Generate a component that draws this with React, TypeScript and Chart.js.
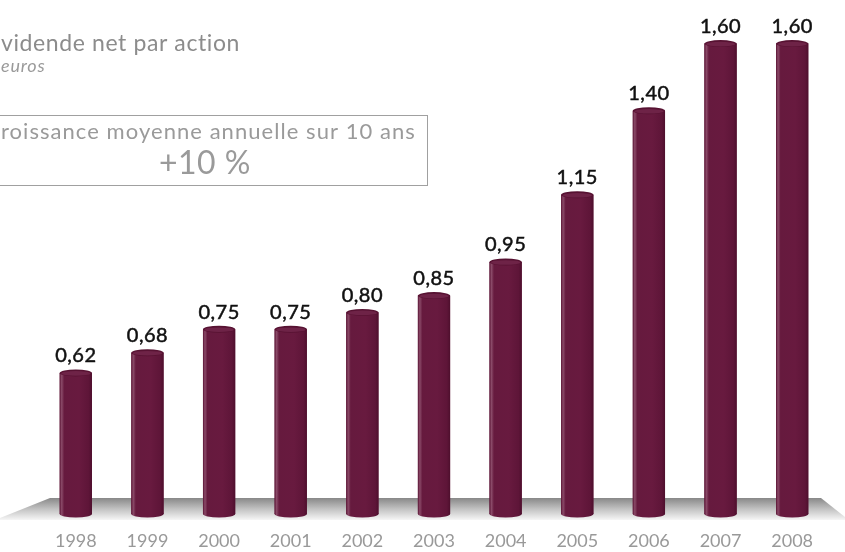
import React, { useEffect, useRef } from "react";
import { Chart, registerables } from "chart.js";

Chart.register(...registerables);

const years = ["1998", "1999", "2000", "2001", "2002", "2003", "2004", "2005", "2006", "2007", "2008"];
const dividends = [0.62, 0.68, 0.75, 0.75, 0.8, 0.85, 0.95, 1.15, 1.4, 1.6, 1.6];
const valueLabels = dividends.map((v) => v.toFixed(2).replace(".", ","));
const titleText = "Dividende net par action";
const subtitleText = "en euros";
const boxLine1 = "Croissance moyenne annuelle sur 10 ans";
const boxLine2 = "+10 %";

const FONT = "Lato, 'Open Sans', sans-serif";

const decorPlugin = {
  id: "decor",
  beforeDatasetsDraw(chart: any) {
    const ctx = chart.ctx;
    const area = chart.chartArea;
    ctx.save();
    const top = area.bottom - 16;
    const bot = area.bottom + 6;
    const g = ctx.createLinearGradient(0, top, 0, bot);
    g.addColorStop(0, "#888888");
    g.addColorStop(0.5, "#c2c2c2");
    g.addColorStop(1, "#f6f6f6");
    ctx.fillStyle = g;
    ctx.beginPath();
    ctx.moveTo(50, top);
    ctx.lineTo(chart.width - 24, top);
    ctx.lineTo(chart.width, bot - 3);
    ctx.lineTo(chart.width, bot);
    ctx.lineTo(0, bot);
    ctx.lineTo(0, top + 20);
    ctx.closePath();
    ctx.fill();
    ctx.restore();
  },
  afterDatasetsDraw(chart: any) {
    const ctx = chart.ctx;
    const area = chart.chartArea;
    const meta = chart.getDatasetMeta(0);
    ctx.save();
    meta.data.forEach((el: any) => {
      const { x, y, width } = el;
      const base = Math.min(el.base, area.bottom);
      const l = x - width / 2;
      const r = x + width / 2;
      const ry = 3.5;
      const g = ctx.createLinearGradient(l, 0, r, 0);
      g.addColorStop(0, "#5a1334");
      g.addColorStop(0.06, "#8a4a68");
      g.addColorStop(0.14, "#661a3e");
      g.addColorStop(0.6, "#681a3f");
      g.addColorStop(0.9, "#5e1538");
      g.addColorStop(1, "#4e0f2d");
      ctx.fillStyle = g;
      ctx.beginPath();
      ctx.ellipse(x, base, width / 2, ry, 0, 0, Math.PI * 2);
      ctx.fill();
      ctx.fillRect(l, y, width, base - y);
      ctx.beginPath();
      ctx.ellipse(x, y, width / 2, ry, 0, 0, Math.PI * 2);
      ctx.fillStyle = "#571232";
      ctx.fill();
      ctx.beginPath();
      ctx.ellipse(x, y + 0.5, width / 2 - 1.5, ry - 1.2, 0, 0, Math.PI * 2);
      ctx.fillStyle = "#6e2347";
      ctx.fill();
    });
    ctx.fillStyle = "#111111";
    ctx.strokeStyle = "#111111";
    ctx.lineWidth = 0.5;
    ctx.font = `20px ${FONT}`;
    (ctx as any).letterSpacing = "0.5px";
    ctx.textAlign = "center";
    ctx.textBaseline = "middle";
    meta.data.forEach((el: any, i: number) => {
      ctx.fillText(valueLabels[i], el.x, el.y - 17);
      ctx.strokeText(valueLabels[i], el.x, el.y - 17);
    });
    ctx.restore();
  },
  afterDraw(chart: any) {
    const ctx = chart.ctx;
    ctx.save();
    ctx.textBaseline = "alphabetic";
    ctx.textAlign = "left";
    ctx.fillStyle = "#8c8c8c";
    ctx.font = `23px ${FONT}`;
    (ctx as any).letterSpacing = "0.6px";
    const di = ctx.measureText("Di").width;
    ctx.fillText(titleText, 1 - di, 51);
    ctx.font = `italic 18px ${FONT}`;
    (ctx as any).letterSpacing = "0.8px";
    ctx.fillStyle = "#9a9a9a";
    const en = ctx.measureText("en ").width;
    ctx.fillText(subtitleText, 1 - en, 72);
    // box
    (ctx as any).letterSpacing = "0px";
    ctx.strokeStyle = "#a0a0a0";
    ctx.lineWidth = 1;
    ctx.strokeRect(-25.5, 115.5, 453, 70);
    ctx.fillStyle = "#9a9a9a";
    ctx.font = `22px ${FONT}`;
    (ctx as any).letterSpacing = "1.05px";
    ctx.textAlign = "left";
    const cw = ctx.measureText("C").width;
    ctx.fillText(boxLine1, 1 - cw, 139);
    ctx.textAlign = "center";
    ctx.font = `32px ${FONT}`;
    (ctx as any).letterSpacing = "0.5px";
    ctx.fillText(boxLine2, 205, 174);
    ctx.restore();
  },
};

export default function App() {
  const ref = useRef<HTMLCanvasElement | null>(null);
  useEffect(() => {
    document.body.style.margin = "0";
    if (!ref.current) return;
    const chart = new Chart(ref.current, {
      type: "bar",
      data: {
        labels: years,
        datasets: [
          {
            data: dividends,
            backgroundColor: "#661a3e",
            borderWidth: 0,
            categoryPercentage: 1,
            barPercentage: 0.45,
          },
        ],
      },
      options: {
        responsive: false,
        animation: false,
        devicePixelRatio: 1,
        layout: { padding: { left: 40, right: 17, top: 10, bottom: 0 } },
        plugins: { legend: { display: false }, tooltip: { enabled: false }, title: { display: false } },
        scales: {
          x: {
            grid: { display: false },
            border: { display: false },
            ticks: { color: "#999999", font: { family: FONT, size: 18 }, padding: 8, maxRotation: 0 },
            afterFit: (scale: any) => {
              scale.height = 38;
            },
          },
          y: { display: false, min: 0.2, max: 1.7 },
        },
      },
      plugins: [decorPlugin],
    });
    return () => chart.destroy();
  }, []);
  return (
    <div style={{ position: "absolute", left: 0, top: 0, width: 845, height: 552 }}>
      <canvas ref={ref} width={845} height={552} />
    </div>
  );
}
